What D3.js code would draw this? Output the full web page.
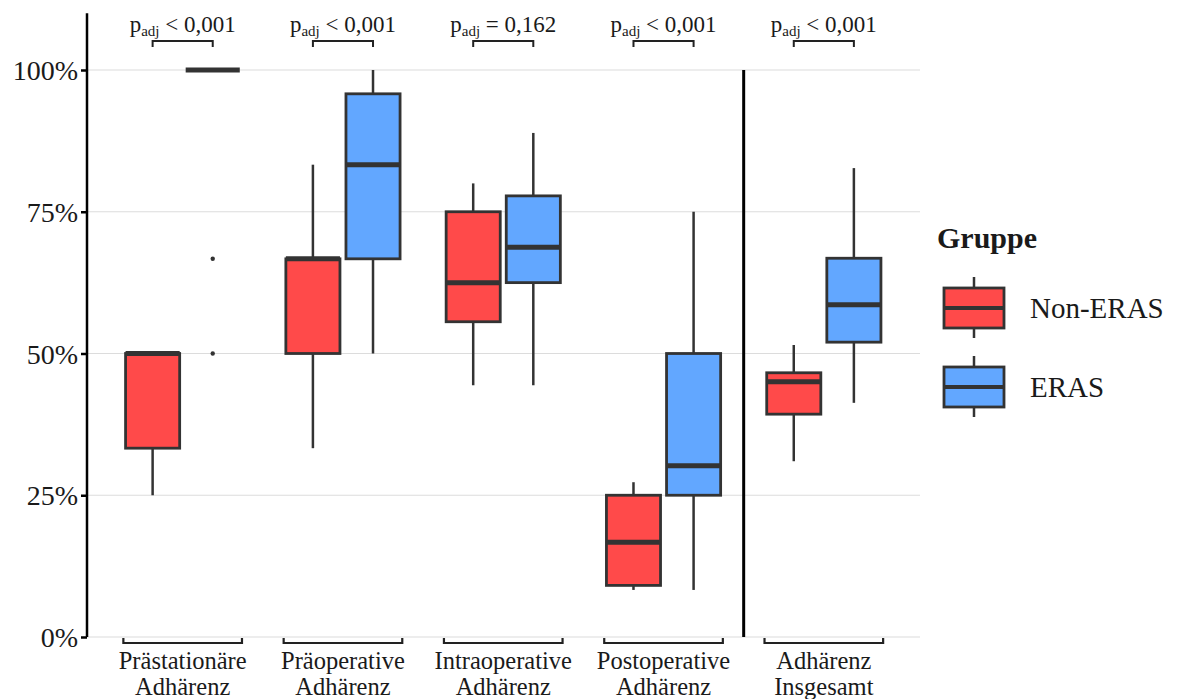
<!DOCTYPE html>
<html>
<head>
<meta charset="utf-8">
<script src="https://cdn.jsdelivr.net/npm/d3@7"></script>
<style>
  body { margin: 0; background: #fff; }
  svg text { font-family: "Liberation Serif", "Times New Roman", serif !important; fill: #1a1a1a; }
</style>
</head>
<body>
<div class="svg"></div>
<script>
// categories (two-line labels)
var categories = [
    ["Prästationäre", "Adhärenz"],
    ["Präoperative", "Adhärenz"],
    ["Intraoperative", "Adhärenz"],
    ["Postoperative", "Adhärenz"],
    ["Adhärenz", "Insgesamt"]
];
var groups = ["Non-ERAS", "ERAS"];
var colors = ["#ff4a4a", "#62a7ff"];

// box stats per category (fractions)
var nonErasMin = [0.25, 0.333, 0.444, 0.083, 0.31];
var nonErasQ1 = [0.333, 0.5, 0.556, 0.091, 0.393];
var nonErasMed = [0.5, 0.667, 0.625, 0.167, 0.45];
var nonErasQ3 = [0.5, 0.667, 0.75, 0.25, 0.466];
var nonErasMax = [0.5, 0.833, 0.8, 0.273, 0.515];
var nonErasOut = [[], [], [], [], []];

var erasMin = [1, 0.5, 0.444, 0.083, 0.413];
var erasQ1 = [1, 0.667, 0.625, 0.25, 0.52];
var erasMed = [1, 0.833, 0.6875, 0.302, 0.586];
var erasQ3 = [1, 0.958, 0.778, 0.5, 0.668];
var erasMax = [1, 1, 0.889, 0.75, 0.827];
var erasOut = [[0.667, 0.5], [], [], [], []];

var pOps = ["<", "<", "=", "<", "<"];
var pVals = ["0,001", "0,001", "0,162", "0,001", "0,001"];
var yTicks = [0, 0.25, 0.5, 0.75, 1];

var width = 1182, height = 699;
var left = 86.5, right = 920, bottom = 637;
var serif = '"Liberation Serif", "Times New Roman", serif';

var svg = d3.select('div.svg')
    .append('svg')
    .attr('width', width)
    .attr('height', height)
    .attr('font-family', serif);

var x = d3.scalePoint()
    .domain(d3.range(categories.length))
    .range([left, right])
    .padding(0.6);
var step = x.step();

var y = d3.scaleLinear()
    .domain([0, 1.1])
    .range([bottom, 13.3]);

var dodge = d3.scaleBand()
    .domain(groups)
    .range([-0.375 * step, 0.375 * step]);
var boxW = dodge.bandwidth() * 0.9;

// gridlines
svg.append('g')
    .selectAll('line')
    .data(yTicks)
    .enter()
    .append('line')
    .attr('x1', left)
    .attr('x2', right)
    .attr('y1', d => y(d))
    .attr('y2', d => y(d))
    .attr('stroke', '#dcdcdc')
    .attr('stroke-width', 1.2);

// y axis
var yAxis = svg.append('g')
    .attr('transform', 'translate(' + 87 + ',0)')
    .call(d3.axisLeft(y).tickValues(yTicks).tickFormat(d3.format('.0%')).tickSize(6).tickPadding(3))
    .attr('font-family', serif)
    .attr('font-size', 28);
yAxis.select('.domain').remove();
yAxis.selectAll('line').attr('stroke', '#000').attr('stroke-width', 2.5);
yAxis.selectAll('text')
    .attr('fill', '#1a1a1a')
    .attr('dy', '0.34em');
svg.append('line')
    .attr('x1', 87).attr('x2', 87)
    .attr('y1', y(1.1)).attr('y2', bottom)
    .attr('stroke', '#000').attr('stroke-width', 2.5);

// separator between phases and total
svg.append('line')
    .attr('x1', (x(3) + x(4)) / 2)
    .attr('x2', (x(3) + x(4)) / 2)
    .attr('y1', y(1))
    .attr('y2', bottom)
    .attr('stroke', '#000')
    .attr('stroke-width', 3);

// boxes
var stats = [
    [nonErasMin, nonErasQ1, nonErasMed, nonErasQ3, nonErasMax, nonErasOut],
    [erasMin, erasQ1, erasMed, erasQ3, erasMax, erasOut]
];

function drawBox(g, cx, s, i, fill) {
    var x0 = cx - boxW / 2;
    g.append('line')
        .attr('x1', cx).attr('x2', cx)
        .attr('y1', y(s[3][i])).attr('y2', y(s[4][i]))
        .attr('stroke', '#333').attr('stroke-width', 2.5);
    g.append('line')
        .attr('x1', cx).attr('x2', cx)
        .attr('y1', y(s[1][i])).attr('y2', y(s[0][i]))
        .attr('stroke', '#333').attr('stroke-width', 2.5);
    g.append('rect')
        .attr('x', x0)
        .attr('y', y(s[3][i]))
        .attr('width', boxW)
        .attr('height', y(s[1][i]) - y(s[3][i]))
        .attr('fill', fill)
        .attr('stroke', '#333')
        .attr('stroke-width', 2.8);
    g.append('line')
        .attr('x1', x0).attr('x2', x0 + boxW)
        .attr('y1', y(s[2][i])).attr('y2', y(s[2][i]))
        .attr('stroke', '#333').attr('stroke-width', 5);
    g.selectAll('circle.out')
        .data(s[5][i])
        .enter()
        .append('circle')
        .attr('class', 'out')
        .attr('cx', cx)
        .attr('cy', d => y(d))
        .attr('r', 2.2)
        .attr('fill', '#333');
}

var boxes = svg.append('g');
categories.forEach(function (c, i) {
    groups.forEach(function (gname, k) {
        var cx = x(i) + dodge(gname) + dodge.bandwidth() / 2;
        drawBox(boxes.append('g'), cx, stats[k], i, colors[k]);
    });
});

// bottom brackets + x labels
var xl = svg.append('g');
categories.forEach(function (c, i) {
    var a = x(i) - 0.37 * step, b = x(i) + 0.37 * step;
    xl.append('path')
        .attr('d', 'M' + a + ',' + 638 + 'V' + 643 + 'H' + b + 'V' + 638)
        .attr('fill', 'none')
        .attr('stroke', '#222')
        .attr('stroke-width', 2.2);
    var t = xl.append('text')
        .attr('text-anchor', 'middle')
        .attr('font-size', 24.5);
    c.forEach(function (line, j) {
        t.append('tspan')
            .attr('x', x(i))
            .attr('y', 669 + j * 26)
            .text(line);
    });
});

// p-value annotations
var ann = svg.append('g');
categories.forEach(function (c, i) {
    var a = x(i) + dodge(groups[0]) + dodge.bandwidth() / 2;
    var b = x(i) + dodge(groups[1]) + dodge.bandwidth() / 2;
    ann.append('path')
        .attr('d', 'M' + a + ',' + 47 + 'V' + 41 + 'H' + b + 'V' + 47)
        .attr('fill', 'none')
        .attr('stroke', '#222')
        .attr('stroke-width', 2);
    var t = ann.append('text')
        .attr('x', x(i))
        .attr('y', 32)
        .attr('text-anchor', 'middle')
        .attr('font-size', 23)
        .style('white-space', 'pre');
    t.append('tspan').text('p');
    t.append('tspan').attr('font-size', 15).attr('dy', 4).text('adj');
    t.append('tspan').attr('dy', -4).text(' ' + pOps[i] + ' ' + pVals[i]);
});

// legend
var leg = svg.append('g');
leg.append('text')
    .attr('x', 937)
    .attr('y', 248)
    .attr('font-size', 30)
    .attr('font-weight', 'bold')
    .text('Gruppe');
var legY = [308, 387];
groups.forEach(function (gname, k) {
    var cy = legY[k];
    leg.append('line')
        .attr('x1', 974).attr('x2', 974)
        .attr('y1', cy - 31).attr('y2', cy + 30)
        .attr('stroke', '#333').attr('stroke-width', 2.5);
    leg.append('rect')
        .attr('x', 944).attr('y', cy - 20)
        .attr('width', 60).attr('height', 40)
        .attr('fill', colors[k])
        .attr('stroke', '#333').attr('stroke-width', 2.8);
    leg.append('line')
        .attr('x1', 944).attr('x2', 1004)
        .attr('y1', cy).attr('y2', cy)
        .attr('stroke', '#333').attr('stroke-width', 4);
    leg.append('text')
        .attr('x', 1030)
        .attr('y', cy)
        .attr('dy', '0.35em')
        .attr('font-size', 29)
        .text(gname);
});
</script>
</body>
</html>
